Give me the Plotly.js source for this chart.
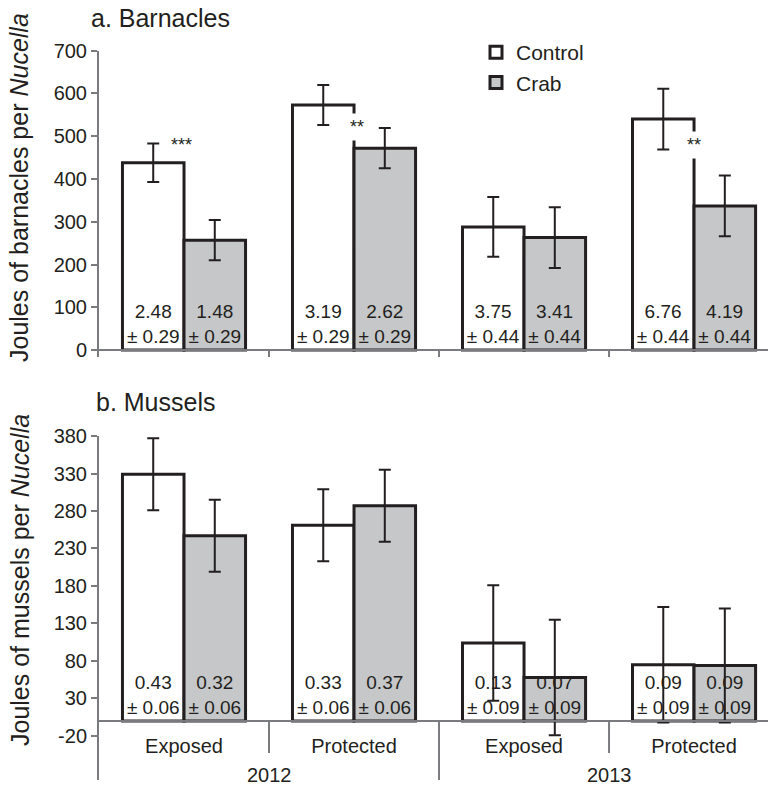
<!DOCTYPE html>
<html>
<head>
<meta charset="utf-8">
<script src="https://cdn.plot.ly/plotly-3.0.1.min.js"></script>
<style>html,body{margin:0;padding:0;background:#fff;}#chart{width:768px;height:787px;}</style>
</head>
<body>
<div id="chart"></div>
<script>
// ---- data ----
const sites = ["Exposed", "Protected", "Exposed", "Protected"];
const years = ["2012", "2012", "2013", "2013"];
const seriesNames = ["Control", "Crab"];

const barnControl = [438, 573, 288, 540];
const barnControlErr = [45, 47, 70, 71];
const barnCrab = [257, 472, 263, 337];
const barnCrabErr = [47, 47, 71, 71];
const barnRatioControl = ["2.48", "3.19", "3.75", "6.76"];
const barnRatioCrab = ["1.48", "2.62", "3.41", "4.19"];
const barnRatioSE = ["0.29", "0.29", "0.44", "0.44"];

const musControl = [329, 261, 104, 75];
const musControlErr = [48, 48, 77, 77];
const musCrab = [247, 287, 58, 74];
const musCrabErr = [48, 48, 77, 76];
const musRatioControl = ["0.43", "0.33", "0.13", "0.09"];
const musRatioCrab = ["0.32", "0.37", "0.07", "0.09"];
const musRatioSE = ["0.06", "0.06", "0.09", "0.09"];

const sigMarks = ["***", "**", "**"];
const musTickVals = [-20, 30, 80, 130, 180, 230, 280, 330, 380];
const musTickText = ["-20", "30", "80", "130", "180", "230", "280", "330", "380"];

// ---- style ----
const FONT = "Liberation Sans, Arial, Helvetica, sans-serif";
const INK = "#231f20";
const AXIS = "#7a7b7e";
const CRAB_FILL = "#c5c7c9";

const xIdx = sites.map((_, i) => i);

function labels(ratios, se) {
  return ratios.map((r, i) => r + "<br>\u00b1 " + se[i]);
}
function barTrace(name, y, err, txt, fill, xa, ya, showlegend) {
  return {
    type: "bar", name: name, x: xIdx, y: y,
    xaxis: xa, yaxis: ya, showlegend: showlegend,
    marker: { color: fill, line: { color: INK, width: 3 } },
    error_y: { type: "data", array: err, visible: true, color: INK, thickness: 2, width: 6 },
    text: txt, textposition: "inside", insidetextanchor: "start", textangle: 0,
    constraintext: "none",
    textfont: { family: FONT, size: 19, color: INK },
    insidetextfont: { family: FONT, size: 19, color: INK },
    hoverinfo: "skip"
  };
}

const traces = [
  barTrace(seriesNames[0], barnControl, barnControlErr, labels(barnRatioControl, barnRatioSE), "#ffffff", "x", "y", true),
  barTrace(seriesNames[1], barnCrab, barnCrabErr, labels(barnRatioCrab, barnRatioSE), CRAB_FILL, "x", "y", true),
  barTrace(seriesNames[0], musControl, musControlErr, labels(musRatioControl, musRatioSE), "#ffffff", "x2", "y2", false),
  barTrace(seriesNames[1], musCrab, musCrabErr, labels(musRatioCrab, musRatioSE), CRAB_FILL, "x2", "y2", false)
];

const H = 787, L = 99, W = 669;
const px = v => (v - L) / W;       // pixel x -> paper x
const py = v => 1 - v / H;         // pixel y -> paper y

const xr = [-0.5, 3.435];

// boundaries between categories, and year groups
const shapes = [];
for (let i = 0; i < sites.length - 1; i++) {
  const b = i + 0.5;
  const yearBreak = years[i] !== years[i + 1];
  shapes.push({ type: "line", xref: "x", yref: "paper", x0: b, x1: b, y0: py(350), y1: py(357),
    line: { color: AXIS, width: 2 } });
  shapes.push({ type: "line", xref: "x2", yref: "paper", x0: b, x1: b, y0: py(721), y1: py(yearBreak ? 780 : 753),
    line: { color: AXIS, width: 2 } });
}

const yearAnn = [];
[...new Set(years)].forEach(yr => {
  const idx = years.map((v, i) => v === yr ? i : -1).filter(i => i >= 0);
  const mid = idx.reduce((a, b) => a + b, 0) / idx.length;
  yearAnn.push({ text: yr, xref: "x2", yref: "paper", x: mid, y: py(775), xanchor: "center", yanchor: "middle",
    showarrow: false, font: { family: FONT, size: 20, color: INK } });
});

const layout = {
  width: 768, height: 787,
  margin: { l: L, r: 0, t: 0, b: 0 },
  paper_bgcolor: "#fff", plot_bgcolor: "rgba(0,0,0,0)",
  font: { family: FONT, color: INK, size: 20 },
  barmode: "group", bargap: 0.276, bargroupgap: 0,
  showlegend: true,
  legend: {
    x: px(476), y: py(32), xanchor: "left", yanchor: "top",
    font: { family: FONT, size: 21, color: INK },
    bgcolor: "rgba(0,0,0,0)", tracegroupgap: 0
  },
  xaxis: {
    domain: [0, 1], range: xr,
    anchor: "free", position: py(350),
    showticklabels: false, ticks: "",
    showline: true, linecolor: AXIS, linewidth: 2, showgrid: false, zeroline: false
  },
  yaxis: {
    domain: [py(357), py(50.7)], range: [-16.3, 700],
    tick0: 0, dtick: 100,
    ticks: "outside", ticklen: 6, tickwidth: 2, tickcolor: AXIS,
    tickfont: { family: FONT, size: 20, color: INK },
    showline: true, linecolor: AXIS, linewidth: 2, showgrid: false, zeroline: false
  },
  xaxis2: {
    domain: [0, 1], range: xr,
    anchor: "free", position: py(721),
    tickmode: "array", tickvals: xIdx, ticktext: sites,
    tickfont: { family: FONT, size: 20, color: INK },
    ticks: "", ticklabelstandoff: 7,
    showline: true, linecolor: AXIS, linewidth: 2, showgrid: false, zeroline: false
  },
  yaxis2: {
    domain: [py(780), py(436)], range: [-78.7, 380],
    tickmode: "array", tickvals: musTickVals, ticktext: musTickText,
    ticks: "outside", ticklen: 6, tickwidth: 2, tickcolor: AXIS,
    tickfont: { family: FONT, size: 20, color: INK },
    showline: true, linecolor: AXIS, linewidth: 2, showgrid: false, zeroline: false
  },
  shapes: shapes,
  annotations: [
    { text: "a. Barnacles", xref: "paper", yref: "paper", x: px(89), y: py(18), xanchor: "left", yanchor: "middle",
      showarrow: false, font: { family: FONT, size: 25, color: INK } },
    { text: "b. Mussels", xref: "paper", yref: "paper", x: px(94), y: py(402), xanchor: "left", yanchor: "middle",
      showarrow: false, font: { family: FONT, size: 25, color: INK } },
    { text: "Joules of barnacles per <i>Nucella</i>", xref: "paper", yref: "paper", x: px(19), y: py(188),
      xanchor: "center", yanchor: "middle", textangle: -90, showarrow: false, font: { family: FONT, size: 25, color: INK } },
    { text: "Joules of mussels per <i>Nucella</i>", xref: "paper", yref: "paper", x: px(20), y: py(580),
      xanchor: "center", yanchor: "middle", textangle: -90, showarrow: false, font: { family: FONT, size: 25, color: INK } },
    { text: sigMarks[0], xref: "paper", yref: "paper", x: px(181), y: py(145), xanchor: "center", yanchor: "middle",
      showarrow: false, font: { family: FONT, size: 18, color: INK } },
    { text: sigMarks[1], xref: "paper", yref: "paper", x: px(357), y: py(127), xanchor: "center", yanchor: "middle",
      showarrow: false, bgcolor: "#ffffff", borderpad: 3, font: { family: FONT, size: 18, color: INK } },
    { text: sigMarks[2], xref: "paper", yref: "paper", x: px(694), y: py(145), xanchor: "center", yanchor: "middle",
      showarrow: false, bgcolor: "#ffffff", borderpad: 3, font: { family: FONT, size: 18, color: INK } }
  ].concat(yearAnn)
};

Plotly.newPlot("chart", traces, layout, { displayModeBar: false, staticPlot: true });
</script>
</body>
</html>
